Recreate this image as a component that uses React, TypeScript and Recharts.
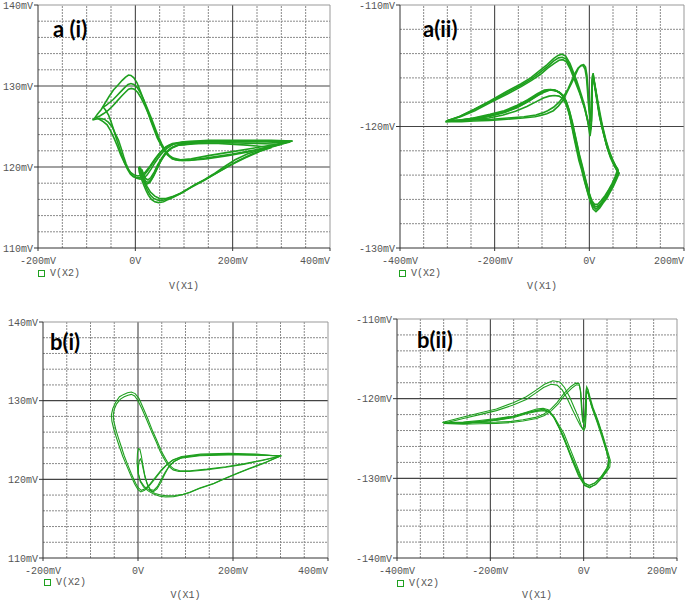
import { LineChart, Line, XAxis, YAxis, ReferenceLine } from "recharts";

// ---------- a (i) : V(X2) vs V(X1), several cycles ----------
const aiLoopBig1 = [
  [323, 123.2], [290, 122.8], [250, 122.4], [200, 121.9], [150, 121.4], [115, 121.0], [93, 120.9], [78, 121.1],
  [68, 121.5], [59, 122.1], [52, 122.8], [45, 123.6], [38, 124.7], [31, 125.8], [24, 127.1], [17, 128.3],
  [10, 129.4], [3.5, 130.4], [-3, 131.0], [-9, 131.3], [-14, 131.35], [-20, 131.1], [-27, 130.7], [-36, 130.1],
  [-45, 129.5], [-54, 128.7], [-62, 127.9], [-70, 127.1], [-78, 126.5], [-84, 126.0], [-88, 125.8], [-82, 125.9],
  [-74, 126.0], [-64, 125.9], [-55, 125.5], [-47, 124.9], [-41, 124.1], [-34.5, 123.3], [-29, 122.3], [-24, 121.3],
  [-19, 120.4], [-14, 119.7], [-8, 119.1], [-3, 118.8], [3, 118.6], [10, 118.5], [17, 118.6], [24, 119.0],
  [32, 119.7], [40, 120.5], [48, 121.2], [56, 121.8], [65, 122.3], [78, 122.8], [100, 123.1], [150, 123.3],
  [220, 123.3], [280, 123.3], [323, 123.2],
];
const aiLoopBig2 = [
  [318, 123.1], [285, 122.6], [245, 122.1], [200, 121.6], [155, 121.2], [120, 120.9], [98, 120.8], [82, 120.9],
  [71, 121.3], [62, 122.0], [54, 122.9], [47, 123.8], [40, 124.9], [33, 126.0], [25, 127.2], [18, 128.2],
  [11, 129.1], [4, 129.8], [-3, 130.2], [-9, 130.3], [-15, 130.2], [-22, 129.8], [-30, 129.3], [-38, 128.8],
  [-46, 128.3], [-54, 127.9], [-60, 127.6], [-66, 127.4], [-61, 127.0], [-55, 126.4], [-50, 125.6], [-45, 124.7],
  [-40, 123.7], [-34, 122.6], [-28, 121.5], [-22, 120.5], [-16, 119.7], [-10, 119.1], [-4, 118.8], [3, 118.7],
  [10, 118.7], [18, 119.0], [26, 119.6], [35, 120.4], [44, 121.2], [53, 121.9], [63, 122.5], [76, 122.9],
  [100, 123.1], [150, 123.2], [220, 123.2], [280, 123.2], [318, 123.1],
];
const aiLoopBig3 = [
  [310, 123.0], [275, 122.5], [235, 121.9], [190, 121.4], [145, 121.0], [110, 120.8], [90, 120.8], [76, 121.0],
  [66, 121.5], [58, 122.2], [50, 123.1], [43, 124.1], [36, 125.2], [28, 126.4], [20, 127.5], [12, 128.5],
  [5, 129.2], [-2, 129.6], [-8, 129.7], [-14, 129.6], [-21, 129.2], [-29, 128.7], [-38, 128.1], [-47, 127.5],
  [-56, 127.0], [-65, 126.6], [-73, 126.3], [-80, 126.1], [-74, 125.9], [-66, 125.6], [-58, 125.2], [-51, 124.5],
  [-44, 123.6], [-37, 122.6], [-30, 121.5], [-23, 120.6], [-16, 119.8], [-9, 119.3], [-2, 119.0], [5, 118.9],
  [13, 119.0], [21, 119.4], [30, 120.1], [39, 120.9], [48, 121.6], [58, 122.2], [70, 122.7], [90, 123.0],
  [140, 123.1], [210, 123.1], [270, 123.1], [310, 123.0],
];
const aiLoopLow1 = [
  [323, 123.2], [300, 122.9], [278, 122.5], [255, 122.1], [230, 121.6], [205, 120.9], [182, 120.0], [160, 119.1],
  [141, 118.4], [122, 117.8], [106, 117.2], [92, 116.7], [79, 116.3], [68, 116.0], [58, 115.7], [48, 115.6],
  [40, 115.7], [33, 116.0], [27, 116.5], [22, 117.1], [17, 117.8], [12, 118.6], [8, 119.4], [7, 119.9],
  [9, 120.0], [12, 119.5], [15, 118.8], [19, 118.2], [24, 117.9], [30, 118.1], [37, 118.8], [44, 119.7],
  [51, 120.6], [58, 121.3], [66, 121.9], [78, 122.5], [95, 122.9], [140, 123.1], [210, 123.2], [270, 123.2],
  [323, 123.2],
];
const aiLoopLow2 = [
  [280, 122.4], [255, 121.9], [225, 121.1], [195, 120.2], [165, 119.2], [140, 118.3], [115, 117.5], [95, 116.8],
  [78, 116.4], [63, 116.1], [50, 116.1], [40, 116.4], [31, 116.9], [24, 117.6], [18, 118.3], [14, 119.0],
  [12, 119.5], [14, 119.6], [17, 119.1], [21, 118.6], [26, 118.4], [32, 118.7], [39, 119.4], [46, 120.3],
  [54, 121.1], [62, 121.8], [72, 122.3], [88, 122.7], [120, 122.9], [170, 122.9], [230, 122.7], [280, 122.4],
];
const aiLoopLow3 = [
  [300, 122.8], [270, 122.3], [240, 121.6], [212, 120.8], [188, 120.0], [165, 119.2], [145, 118.5], [125, 117.9],
  [108, 117.3], [94, 116.8], [80, 116.4], [68, 116.1], [57, 115.9], [47, 115.9], [38, 116.1], [31, 116.5],
  [25, 117.1], [20, 117.8], [15, 118.5], [11, 119.2], [9, 119.7], [11, 119.8], [14, 119.3], [18, 118.6],
  [22, 118.2], [27, 118.1], [33, 118.5], [40, 119.2], [47, 120.1], [55, 121.0], [63, 121.7], [74, 122.3],
  [90, 122.7], [130, 122.9], [190, 123.0], [250, 122.9], [300, 122.8],
];
const aiXTicks = [-200, 0, 200, 400];
const aiXLabels = ["-200mV", "0V", "200mV", "400mV"];
const aiYTicks = [110, 120, 130, 140];
const aiYLabels = ["110mV", "120mV", "130mV", "140mV"];
const aiXMajor = [0, 200];
const aiXMinor = [-150, -100, -50, 50, 100, 150, 250, 300, 350];
const aiYMajor = [120, 130];
const aiYMinor = [112, 114, 116, 118, 122, 124, 126, 128, 132, 134, 136, 138];

// ---------- a (ii) ----------
const aiiLoopUp1 = [
  [-304, -119.6], [-275, -119.2], [-244, -118.6], [-210, -117.9], [-174, -117.1], [-145, -116.5], [-124, -116.0],
  [-105, -115.4], [-89, -114.9], [-75, -114.4], [-66, -114.15], [-58, -114.05], [-50, -114.2], [-41, -114.8],
  [-34, -115.5], [-27, -116.2], [-21, -116.9], [-16, -117.5], [-10, -118.3], [-5, -119.2], [-1, -120.2],
  [1.5, -120.8], [4, -120.1], [5.5, -118.6], [6, -117.0], [6.5, -115.9], [8, -115.6], [10, -116.3], [14, -117.2],
  [18, -118.2], [22, -119.2], [29, -120.4], [37, -121.6], [44, -122.4], [51, -123.0], [57, -123.5], [63, -123.85],
  [57, -124.4], [51, -124.9], [44, -125.4], [37, -125.9], [29, -126.3], [22, -126.7], [14, -127.0], [8, -126.8],
  [4, -126.4], [-1, -125.8], [-6, -125.1], [-11, -124.4], [-16, -123.6], [-22, -122.8], [-27, -121.9], [-32, -121.0],
  [-37, -120.0], [-44, -118.6], [-51, -117.8], [-58, -117.4], [-66, -117.15], [-75, -117.0], [-85, -116.95],
  [-95, -117.0], [-110, -117.3], [-130, -117.8], [-155, -118.3], [-180, -118.7], [-210, -119.0], [-245, -119.3],
  [-275, -119.5], [-304, -119.6],
];
const aiiLoopUp2 = [
  [-300, -119.5], [-272, -119.2], [-242, -118.7], [-208, -118.0], [-172, -117.3], [-143, -116.7], [-122, -116.2],
  [-103, -115.7], [-88, -115.2], [-74, -114.8], [-64, -114.55], [-56, -114.5], [-48, -114.7], [-40, -115.3],
  [-33, -116.0], [-26, -116.7], [-20, -117.3], [-15, -117.9], [-9, -118.6], [-4, -119.4], [-0.5, -120.0],
  [2, -120.2], [4.5, -119.5], [5.5, -118.2], [6, -116.9], [7, -116.0], [9, -115.9], [12, -116.6], [16, -117.5],
  [21, -118.6], [27, -119.8], [35, -121.1], [42, -122.0], [49, -122.7], [55, -123.2], [61, -123.6], [55, -124.2],
  [49, -124.7], [42, -125.2], [35, -125.7], [27, -126.2], [20, -126.5], [13, -126.6], [7, -126.4], [3, -126.0],
  [-2, -125.4], [-7, -124.8], [-12, -124.0], [-17, -123.2], [-23, -122.3], [-28, -121.5], [-33, -120.6],
  [-38, -119.7], [-45, -118.5], [-52, -117.7], [-60, -117.3], [-68, -117.1], [-78, -117.0], [-88, -117.0],
  [-100, -117.15], [-115, -117.5], [-135, -117.95], [-160, -118.45], [-185, -118.85], [-215, -119.15],
  [-250, -119.35], [-280, -119.5], [-300, -119.5],
];
const aiiLoopUp3 = [
  [-302, -119.55], [-273, -119.15], [-243, -118.6], [-209, -117.95], [-173, -117.2], [-144, -116.6], [-123, -116.1],
  [-104, -115.55], [-88, -115.05], [-75, -114.6], [-65, -114.35], [-57, -114.3], [-49, -114.45], [-41, -115.0],
  [-34, -115.7], [-27, -116.4], [-21, -117.1], [-16, -117.7], [-10, -118.5], [-5, -119.3], [-1, -119.9],
  [1.5, -120.4], [4, -119.8], [5, -118.4], [5.5, -117.1], [6.5, -116.2], [8.5, -115.9], [11, -116.5], [15, -117.4],
  [19, -118.4], [24, -119.5], [31, -120.7], [38, -121.8], [45, -122.6], [52, -123.2], [58, -123.6], [62, -123.8],
  [56, -124.3], [50, -124.8], [43, -125.3], [36, -125.8], [28, -126.25], [21, -126.6], [14, -126.8], [8, -126.6],
  [3, -126.2], [-2, -125.6], [-7, -124.9], [-12, -124.1], [-17, -123.3], [-22, -122.5], [-27, -121.6], [-32, -120.7],
  [-37, -119.8], [-43, -118.9], [-49, -118.2], [-56, -117.7], [-64, -117.5], [-74, -117.45], [-85, -117.5],
  [-97, -117.65], [-112, -117.95], [-132, -118.35], [-156, -118.75], [-182, -119.05], [-212, -119.3],
  [-246, -119.45], [-276, -119.55], [-302, -119.55],
];
const aiiLoopLow1 = [
  [-304, -119.6], [-270, -119.6], [-244, -119.55], [-210, -119.5], [-174, -119.4], [-140, -119.3], [-115, -119.2],
  [-103, -119.1], [-90, -118.95], [-76, -118.7], [-65, -118.3], [-55, -117.8], [-46, -117.1], [-37, -116.4],
  [-30, -115.8], [-23, -115.2], [-17, -114.95], [-12, -114.9], [-8, -115.1], [-5, -115.8], [-3, -116.8],
  [-1, -118.0], [1, -119.0], [2.5, -119.6], [4, -119.0], [5, -117.8], [6, -116.6], [7, -116.0], [9, -116.1],
  [12, -116.9], [16, -117.9], [21, -119.1], [28, -120.3], [36, -121.5], [43, -122.3], [50, -122.9], [56, -123.4],
  [61, -123.7], [56, -124.3], [49, -124.9], [42, -125.4], [34, -125.9], [26, -126.3], [19, -126.6], [12, -126.6],
  [6, -126.3], [1, -125.7], [-4, -125.0], [-9, -124.3], [-14, -123.5], [-20, -122.6], [-25, -121.7], [-30, -120.8],
  [-35, -119.9], [-41, -118.9], [-48, -118.0], [-55, -117.5], [-63, -117.2], [-72, -117.0], [-82, -116.95],
  [-93, -117.1], [-108, -117.4], [-128, -117.9], [-152, -118.4], [-178, -118.8], [-208, -119.1], [-240, -119.35],
  [-272, -119.5], [-304, -119.6],
];
const aiiLoopLow2 = [
  [-300, -119.5], [-268, -119.5], [-240, -119.45], [-206, -119.4], [-172, -119.3], [-138, -119.2], [-113, -119.05],
  [-100, -118.9], [-88, -118.7], [-75, -118.4], [-64, -118.0], [-54, -117.5], [-45, -116.9], [-37, -116.2],
  [-30, -115.6], [-24, -115.2], [-18, -115.0], [-13, -115.0], [-9, -115.3], [-6, -116.0], [-4, -117.0],
  [-2, -118.1], [0, -118.9], [2, -119.3], [3.5, -118.8], [4.5, -117.6], [5.5, -116.5], [7, -115.9], [9, -116.0],
  [12, -116.7], [16, -117.7], [21, -118.9], [28, -120.1], [35, -121.2], [42, -122.1], [49, -122.8], [55, -123.2],
  [60, -123.5], [55, -124.1], [48, -124.7], [41, -125.2], [33, -125.7], [25, -126.1], [18, -126.4], [11, -126.4],
  [5, -126.1], [0, -125.5], [-5, -124.8], [-10, -124.0], [-15, -123.2], [-21, -122.3], [-26, -121.4], [-31, -120.5],
  [-36, -119.6], [-42, -118.7], [-49, -117.9], [-56, -117.4], [-64, -117.15], [-73, -117.05], [-83, -117.0],
  [-94, -117.15], [-109, -117.45], [-129, -117.95], [-153, -118.45], [-179, -118.85], [-209, -119.15],
  [-241, -119.35], [-271, -119.45], [-300, -119.5],
];
const aiiXTicks = [-400, -200, 0, 200];
const aiiXLabels = ["-400mV", "-200mV", "0V", "200mV"];
const aiiYTicks = [-130, -120, -110];
const aiiYLabels = ["-130mV", "-120mV", "-110mV"];
const aiiXMajor = [-200, 0];
const aiiXMinor = [-350, -300, -250, -150, -100, -50, 50, 100, 150];
const aiiYMajor = [-120];
const aiiYMinor = [-128, -126, -124, -122, -118, -116, -114, -112];

// ---------- b (i) ----------
const biLoopBig1 = [
  [302, 123.0], [265, 122.5], [225, 122.0], [185, 121.6], [145, 121.3], [110, 121.1], [88, 121.1], [76, 121.3],
  [66, 121.8], [58, 122.6], [49, 123.6], [40, 124.9], [31, 126.1], [20, 127.8], [10, 129.2], [2, 130.3],
  [-6, 130.9], [-14, 131.1], [-22, 131.0], [-30, 130.8], [-39, 130.5], [-47, 129.8], [-53, 129.0], [-56, 128.2],
  [-55, 127.4], [-51, 126.4], [-46, 125.4], [-40, 124.3], [-32, 122.9], [-25, 121.9], [-16, 120.6], [-7, 119.4],
  [0, 118.7], [6, 118.4], [14, 118.6], [24, 119.2], [36, 120.1], [48, 121.0], [60, 121.8], [72, 122.4],
  [90, 122.8], [130, 123.1], [190, 123.2], [250, 123.1], [302, 123.0],
];
const biLoopBig2 = [
  [298, 122.9], [262, 122.4], [222, 121.9], [182, 121.5], [142, 121.2], [108, 121.0], [86, 121.0], [74, 121.2],
  [64, 121.7], [56, 122.5], [47, 123.5], [38, 124.8], [29, 126.0], [18, 127.6], [8, 129.0], [0, 130.0],
  [-7, 130.6], [-14, 130.8], [-21, 130.7], [-29, 130.5], [-37, 130.2], [-45, 129.6], [-50, 128.9], [-52, 128.2],
  [-51, 127.4], [-47, 126.4], [-42, 125.4], [-36, 124.3], [-29, 123.0], [-22, 121.9], [-14, 120.7], [-5, 119.5],
  [1, 118.9], [7, 118.6], [15, 118.8], [25, 119.4], [37, 120.3], [49, 121.2], [61, 121.9], [74, 122.5],
  [92, 122.9], [132, 123.2], [190, 123.3], [250, 123.2], [298, 122.9],
];
const biLoopBump1 = [
  [302, 123.0], [270, 122.2], [235, 121.4], [210, 120.8], [186, 120.2], [160, 119.5], [130, 118.9], [110, 118.4],
  [95, 118.1], [78, 117.95], [60, 117.9], [48, 118.0], [36, 118.2], [24, 118.6], [13, 119.1], [5, 119.8],
  [0, 120.8], [-2, 122.2], [-1, 123.4], [1, 123.9], [4, 123.8], [7, 123.0], [10, 121.9], [14, 120.6],
  [19, 119.5], [25, 118.7], [32, 118.4], [40, 118.8], [48, 119.6], [56, 120.6], [64, 121.5], [74, 122.2],
  [90, 122.7], [130, 123.0], [190, 123.1], [250, 123.1], [302, 123.0],
];
const biLoopBump2 = [
  [300, 123.0], [268, 122.1], [233, 121.3], [208, 120.7], [184, 120.1], [158, 119.4], [128, 118.8], [108, 118.3],
  [92, 118.0], [75, 117.8], [58, 117.75], [46, 117.85], [34, 118.1], [22, 118.5], [12, 119.0], [5, 119.7],
  [1, 120.7], [1, 121.7], [3, 122.4], [5, 122.6], [8, 122.2], [11, 121.3], [15, 120.2], [20, 119.3],
  [26, 118.7], [33, 118.6], [41, 119.1], [49, 120.0], [57, 120.9], [66, 121.7], [77, 122.3], [94, 122.8],
  [135, 123.1], [195, 123.2], [250, 123.1], [300, 123.0],
];
const biXTicks = [-200, 0, 200, 400];
const biXLabels = ["-200mV", "0V", "200mV", "400mV"];
const biYTicks = [110, 120, 130, 140];
const biYLabels = ["110mV", "120mV", "130mV", "140mV"];
const biXMajor = [0, 200];
const biXMinor = [-150, -100, -50, 50, 100, 150, 250, 300, 350];
const biYMajor = [120, 130];
const biYMinor = [112, 114, 116, 118, 122, 124, 126, 128, 132, 134, 136, 138];

// ---------- b (ii) ----------
const biiLoopUp1 = [
  [-303, -123.0], [-258, -122.3], [-223, -121.8], [-187, -121.3], [-151, -120.5], [-123, -119.75], [-101, -118.9],
  [-84, -118.2], [-66, -117.75], [-51, -117.9], [-41, -118.6], [-30, -119.8], [-19, -121.3], [-10, -122.5],
  [-4, -123.6], [0, -124.0], [3.5, -123.6], [5.5, -121.9], [6, -120.3], [5.5, -119.0], [6.5, -118.5], [9, -118.8],
  [14, -119.9], [20, -121.1], [31, -122.8], [41, -124.6], [52, -126.7], [57, -127.75], [56, -128.6], [49, -129.2],
  [41, -129.7], [27, -130.7], [13, -131.2], [2, -130.9], [-5, -130.0], [-16, -128.6], [-30, -126.7], [-44, -124.6],
  [-55, -123.4], [-66, -122.1], [-76, -121.4], [-87, -121.2], [-101, -121.3], [-123, -121.7], [-151, -122.2],
  [-187, -122.5], [-223, -122.75], [-258, -122.95], [-303, -123.0],
];
const biiLoopUp2 = [
  [-300, -123.1], [-258, -122.5], [-223, -122.0], [-187, -121.5], [-151, -120.8], [-123, -120.1], [-103, -119.3],
  [-86, -118.6], [-70, -118.2], [-57, -118.3], [-46, -118.9], [-35, -120.0], [-24, -121.4], [-14, -122.6],
  [-7, -123.4], [-2, -123.8], [2, -123.5], [4, -122.0], [5, -120.5], [5, -119.2], [6, -118.7], [9, -118.9],
  [13, -120.0], [19, -121.3], [29, -123.0], [39, -124.8], [49, -126.6], [54, -127.6], [53, -128.4], [46, -129.2],
  [36, -129.9], [24, -130.6], [12, -130.9], [2, -130.6], [-6, -129.7], [-16, -128.2], [-29, -126.3], [-42, -124.4],
  [-53, -123.3], [-63, -122.3], [-74, -121.7], [-86, -121.5], [-101, -121.6], [-123, -121.9], [-151, -122.4],
  [-187, -122.7], [-223, -122.9], [-258, -123.05], [-300, -123.1],
];
const biiLoopLow1 = [
  [-300, -123.1], [-258, -123.2], [-223, -123.15], [-187, -123.1], [-155, -123.0], [-130, -122.8], [-101, -122.5],
  [-84, -122.1], [-69, -121.5], [-55, -120.7], [-41, -119.6], [-26, -118.7], [-16, -118.25], [-9, -118.3],
  [-6, -119.2], [-4.5, -120.5], [-3, -121.7], [-1.5, -122.6], [0, -122.7], [2, -122.2], [3.5, -121.0],
  [4.5, -119.8], [6, -119.0], [9, -119.2], [16, -120.7], [27, -122.3], [38, -124.2], [48.6, -126.5],
  [53.6, -127.75], [50.7, -128.6], [38, -129.75], [23.6, -130.6], [11.4, -130.9], [0, -130.6], [-12, -129.4],
  [-26, -127.4], [-41, -125.25], [-53, -123.6], [-64, -122.3], [-75, -121.6], [-86, -121.3], [-101, -121.5],
  [-123, -121.8], [-151, -122.3], [-187, -122.7], [-223, -122.9], [-258, -123.1], [-300, -123.1],
];
const biiLoopLow2 = [
  [-296, -123.0], [-258, -123.05], [-223, -123.0], [-187, -122.95], [-155, -122.85], [-130, -122.65],
  [-103, -122.35], [-86, -121.95], [-71, -121.35], [-57, -120.5], [-43, -119.4], [-28, -118.5], [-17, -118.05],
  [-10, -118.1], [-7, -119.0], [-5.5, -120.4], [-4, -121.8], [-2, -122.9], [0, -123.1], [2.5, -122.5], [4, -121.2],
  [5, -119.9], [7, -119.1], [10, -119.4], [17, -121.0], [28, -122.7], [40, -124.6], [50, -126.8], [55, -127.9],
  [52, -128.8], [40, -129.9], [25, -130.8], [12, -131.1], [1, -130.8], [-11, -129.7], [-25, -127.7], [-39, -125.5],
  [-51, -123.8], [-62, -122.5], [-73, -121.7], [-85, -121.4], [-100, -121.45], [-122, -121.75], [-150, -122.2],
  [-186, -122.6], [-222, -122.85], [-257, -123.0], [-296, -123.0],
];
const biiXTicks = [-400, -200, 0, 200];
const biiXLabels = ["-400mV", "-200mV", "0V", "200mV"];
const biiYTicks = [-140, -130, -120, -110];
const biiYLabels = ["-140mV", "-130mV", "-120mV", "-110mV"];
const biiXMajor = [-200, 0];
const biiXMinor = [-350, -300, -250, -150, -100, -50, 50, 100, 150];
const biiYMajor = [-130, -120];
const biiYMinor = [-138, -136, -134, -132, -128, -126, -124, -122, -118, -116, -114, -112];

const GREEN = "#1fa01f";
const MONO = "'Liberation Mono', 'DejaVu Sans Mono', monospace";

type PanelProps = {
  title: string;
  loops: number[][][];
  xDomain: [number, number];
  yDomain: [number, number];
  xTicks: number[];
  xLabels: string[];
  yTicks: number[];
  yLabels: string[];
  xMajor: number[];
  xMinor: number[];
  yMajor: number[];
  yMinor: number[];
  left: number;
  top: number;
  width: number;
  height: number;
  margin: { top: number; right: number; bottom: number; left: number };
  yAxisWidth: number;
  xAxisHeight: number;
  strokeWidth: number;
  titleAt: [number, number];
  legendAt: [number, number];
};

const Panel = (p: PanelProps) => {
  const xTick = (props: any) => {
    const { x, y, payload } = props;
    const v = payload.value;
    const isLast = v === p.xTicks[p.xTicks.length - 1];
    return (
      <text x={x} y={y} dy="0.71em" textAnchor={isLast ? "end" : "middle"} fill="#555" fontSize={10} fontFamily={MONO}>
        {p.xLabels[p.xTicks.indexOf(v)]}
      </text>
    );
  };
  const yTick = (props: any) => {
    const { x, y, payload } = props;
    return (
      <text x={x} y={y} dy="0.35em" textAnchor="end" fill="#555" fontSize={10} fontFamily={MONO}>
        {p.yLabels[p.yTicks.indexOf(payload.value)]}
      </text>
    );
  };

  return (
    <div style={{ position: "absolute", left: p.left, top: p.top, width: p.width, height: p.height }}>
      <LineChart width={p.width} height={p.height} margin={p.margin}>
        <XAxis
          type="number"
          dataKey="x"
          domain={p.xDomain}
          ticks={p.xTicks}
          interval={0}
          allowDataOverflow
          height={p.xAxisHeight}
          tick={xTick}
          tickSize={3}
          tickMargin={6}
          tickLine={{ stroke: "#333" }}
          axisLine={{ stroke: "#333" }}
          label={{ value: "V(X1)", position: "insideBottom", offset: 0, fill: "#555", fontSize: 10, fontFamily: MONO }}
        />
        <YAxis
          type="number"
          domain={p.yDomain}
          ticks={p.yTicks}
          interval={0}
          allowDataOverflow
          width={p.yAxisWidth}
          tick={yTick}
          tickSize={4}
          tickMargin={1}
          tickLine={{ stroke: "#333" }}
          axisLine={{ stroke: "#333" }}
        />
        {p.yMinor.map((v) => (
          <ReferenceLine key={"ym" + v} y={v} stroke="#8a8a8a" strokeDasharray="2 1" />
        ))}
        {p.xMinor.map((v) => (
          <ReferenceLine key={"xm" + v} x={v} stroke="#8a8a8a" strokeDasharray="2 1" />
        ))}
        {p.yMajor.map((v) => (
          <ReferenceLine key={"yM" + v} y={v} stroke="#444" strokeWidth={1.2} />
        ))}
        {p.xMajor.map((v) => (
          <ReferenceLine key={"xM" + v} x={v} stroke="#333" />
        ))}
        <ReferenceLine y={p.yDomain[1]} stroke="#999" />
        <ReferenceLine x={p.xDomain[1]} stroke="#999" />
        {p.loops.map((pts, i) => (
          <Line
            key={i}
            data={pts.map(([x, y]) => ({ x, y }))}
            dataKey="y"
            type="linear"
            stroke={GREEN}
            strokeWidth={p.strokeWidth}
            dot={false}
            activeDot={false}
            isAnimationActive={false}
          />
        ))}
      </LineChart>
      <div
        style={{
          position: "absolute",
          left: p.titleAt[0] - p.left,
          top: p.titleAt[1] - p.top,
          fontFamily: "Lato, 'Open Sans', sans-serif",
          fontWeight: 700,
          fontSize: 22,
          lineHeight: 1,
          color: "#000",
          whiteSpace: "nowrap",
        }}
      >
        {p.title}
      </div>
      <div
        style={{
          position: "absolute",
          left: p.legendAt[0] - p.left,
          top: p.legendAt[1] - p.top,
          display: "flex",
          alignItems: "center",
          height: 12,
          fontFamily: MONO,
          fontSize: 10,
          color: "#555",
        }}
      >
        <span style={{ display: "inline-block", width: 5, height: 5, border: `1px solid ${GREEN}`, marginRight: 5 }} />
        <span>V(X2)</span>
      </div>
    </div>
  );
};

export default function App() {
  return (
    <div style={{ position: "absolute", left: 0, top: 0, width: 685, height: 600, background: "#fff" }}>
      <Panel
        title="a (i)"
        loops={[aiLoopLow1, aiLoopLow2, aiLoopLow3, aiLoopBig3, aiLoopBig2, aiLoopBig1]}
        xDomain={[-200, 400]}
        yDomain={[110, 140]}
        xTicks={aiXTicks}
        xLabels={aiXLabels}
        yTicks={aiYTicks}
        yLabels={aiYLabels}
        xMajor={aiXMajor}
        xMinor={aiXMinor}
        yMajor={aiYMajor}
        yMinor={aiYMinor}
        left={0}
        top={0}
        width={340}
        height={300}
        margin={{ top: 5, right: 10, bottom: 11, left: 0 }}
        yAxisWidth={38}
        xAxisHeight={41}
        strokeWidth={1.6}
        titleAt={[53, 18]}
        legendAt={[38, 267]}
      />
      <Panel
        title="a(ii)"
        loops={[aiiLoopLow1, aiiLoopLow2, aiiLoopUp3, aiiLoopUp2, aiiLoopUp1]}
        xDomain={[-400, 200]}
        yDomain={[-130, -110]}
        xTicks={aiiXTicks}
        xLabels={aiiXLabels}
        yTicks={aiiYTicks}
        yLabels={aiiYLabels}
        xMajor={aiiXMajor}
        xMinor={aiiXMinor}
        yMajor={aiiYMajor}
        yMinor={aiiYMinor}
        left={340}
        top={0}
        width={345}
        height={300}
        margin={{ top: 5, right: 1, bottom: 11, left: 0 }}
        yAxisWidth={60}
        xAxisHeight={41}
        strokeWidth={1.6}
        titleAt={[423, 18]}
        legendAt={[399, 267]}
      />
      <Panel
        title="b(i)"
        loops={[biLoopBump1, biLoopBump2, biLoopBig1, biLoopBig2]}
        xDomain={[-200, 400]}
        yDomain={[110, 140]}
        xTicks={biXTicks}
        xLabels={biXLabels}
        yTicks={biYTicks}
        yLabels={biYLabels}
        xMajor={biXMajor}
        xMinor={biXMinor}
        yMajor={biYMajor}
        yMinor={biYMinor}
        left={0}
        top={300}
        width={340}
        height={300}
        margin={{ top: 22, right: 12, bottom: 2, left: 0 }}
        yAxisWidth={43}
        xAxisHeight={40}
        strokeWidth={1.1}
        titleAt={[50, 331]}
        legendAt={[44, 576]}
      />
      <Panel
        title="b(ii)"
        loops={[biiLoopLow1, biiLoopLow2, biiLoopUp1, biiLoopUp2]}
        xDomain={[-400, 200]}
        yDomain={[-140, -110]}
        xTicks={biiXTicks}
        xLabels={biiXLabels}
        yTicks={biiYTicks}
        yLabels={biiYLabels}
        xMajor={biiXMajor}
        xMinor={biiXMinor}
        yMajor={biiYMajor}
        yMinor={biiYMinor}
        left={340}
        top={300}
        width={345}
        height={300}
        margin={{ top: 19, right: 8, bottom: 2, left: 0 }}
        yAxisWidth={57}
        xAxisHeight={40}
        strokeWidth={1.1}
        titleAt={[417, 329]}
        legendAt={[397, 577]}
      />
    </div>
  );
}
